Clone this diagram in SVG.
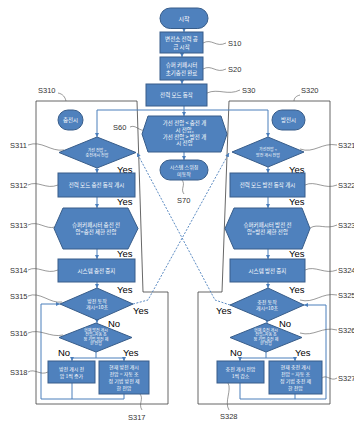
<svg xmlns="http://www.w3.org/2000/svg" width="354" height="423" viewBox="0 0 354 423">
<defs>
<marker id="ah" viewBox="0 0 6 6" refX="6" refY="3" markerWidth="4" markerHeight="4" orient="auto" markerUnits="userSpaceOnUse"><path d="M0,0 L6,3 L0,6 z" fill="#4A7EBB"/></marker>
<style>
.n{fill:#4F81BD;stroke:#385D8A;stroke-width:1}
.t{fill:#fff;font-family:"Noto Sans CJK KR","Noto Sans",sans-serif;text-anchor:middle}
.s55{font-size:5.5px}.s5{font-size:5px}.s4{font-size:4px}.s6{font-size:6px}
.c{fill:none;stroke:#4A7EBB;stroke-width:1}
.a{marker-end:url(#ah)}
.d{fill:none;stroke:#4A7EBB;stroke-width:0.9;stroke-dasharray:2 1.5}
.o{fill:none;stroke:#404040;stroke-width:0.8}
.l{fill:none;stroke:#555;stroke-width:0.6}
.lb{fill:#333;font-family:"Liberation Sans",Arial,sans-serif;font-size:7.5px}
.yn{fill:#000;font-family:"Liberation Sans",Arial,sans-serif;font-size:9.5px}
</style>
</defs>
<rect width="354" height="423" fill="#fff"/>
<g id="outlines">
<path class="o" d="M36,101 H137 L143,292 H168 V404 H36 Z"/>
<path class="o" d="M229,101 H330 V404 H198 V292 H222 Z"/>
</g>
<g id="connectors">
<path class="c a" d="M184,29 V32"/>
<path class="c a" d="M182,53 V57"/>
<path class="c a" d="M182,80 V84"/>
<path class="c a" d="M184,106 V116"/>
<path class="c" d="M97,110 H268"/>
<path class="c a" d="M97,110 V137"/>
<path class="c a" d="M268,110 V137"/>
<path class="c a" d="M184,152 V160"/>
<path class="c a" d="M97,168 V173"/>
<path class="c a" d="M97,197 V208"/>
<path class="c a" d="M97,249 V259"/>
<path class="c a" d="M97,282 V288"/>
<path class="c a" d="M97,320 V323"/>
<path class="c" d="M96,352 V358 M72,358 H124"/>
<path class="c a" d="M72,358 V361"/>
<path class="c a" d="M124,358 V361"/>
<path class="c" d="M72,383 V399 M124,394 V399 M41,399 H124"/>
<path class="c a" d="M41,399 V304 H60"/>
<path class="c a" d="M268,167 V173"/>
<path class="c a" d="M268,197 V208"/>
<path class="c a" d="M268,249 V259"/>
<path class="c a" d="M268,282 V288"/>
<path class="c a" d="M267,321 V323"/>
<path class="c" d="M266,352 V358 M240,358 H295"/>
<path class="c a" d="M240,358 V361"/>
<path class="c a" d="M295,358 V361"/>
<path class="c" d="M240,383 V399 M295,394 V399 M240,399 H326"/>
<path class="c a" d="M326,399 V305 H304"/>
<path class="d a" d="M133,304 L148,300 L229,153"/>
<path class="d a" d="M230,305 L215,300 L137,153"/>
</g>
<g id="leaders">
<path class="l" d="M203,43 C212,38 216,48 226,43"/>
<path class="l" d="M203,69 C212,64 216,74 226,69"/>
<path class="l" d="M207,93 C218,88 228,96 240,90"/>
<path class="l" d="M58,93 C63,94 65,97 66,101"/>
<path class="l" d="M300,95 C296,96 294,98 294,101"/>
<path class="l" d="M130,127 C136,124 139,132 146,130"/>
<path class="l" d="M182,180 C186,185 180,189 184,194"/>
<path class="l" d="M28,145 C42,140 50,152 64,150"/>
<path class="l" d="M28,185 C38,180 46,190 58,185"/>
<path class="l" d="M28,225 C38,220 46,230 55,227"/>
<path class="l" d="M28,270 C38,265 46,275 58,270"/>
<path class="l" d="M28,296 C40,291 50,304 62,302"/>
<path class="l" d="M28,333 C40,328 50,338 63,335"/>
<path class="l" d="M28,372 C35,368 40,376 48,372"/>
<path class="l" d="M140,394 C144,399 138,404 142,410"/>
<path class="l" d="M300,149 C314,154 322,142 337,145"/>
<path class="l" d="M305,185 C315,180 325,190 337,185"/>
<path class="l" d="M310,228 C318,223 326,230 337,225"/>
<path class="l" d="M305,270 C315,265 325,275 337,270"/>
<path class="l" d="M300,300 C314,304 322,292 337,295"/>
<path class="l" d="M300,333 C314,337 322,326 337,330"/>
<path class="l" d="M322,378 C327,374 331,382 337,378"/>
<path class="l" d="M228,383 C232,390 224,402 229,410"/>
</g>
<g id="labels">
<text class="lb" x="228" y="46">S10</text>
<text class="lb" x="228" y="72">S20</text>
<text class="lb" x="242" y="93">S30</text>
<text class="lb" x="38" y="93">S310</text>
<text class="lb" x="301" y="93">S320</text>
<text class="lb" x="113" y="130">S60</text>
<text class="lb" x="177" y="203">S70</text>
<text class="lb" x="10" y="148">S311</text>
<text class="lb" x="10" y="188">S312</text>
<text class="lb" x="10" y="228">S313</text>
<text class="lb" x="10" y="273">S314</text>
<text class="lb" x="10" y="299">S315</text>
<text class="lb" x="10" y="336">S316</text>
<text class="lb" x="10" y="375">S318</text>
<text class="lb" x="128" y="420">S317</text>
<text class="lb" x="338" y="148">S321</text>
<text class="lb" x="338" y="188">S322</text>
<text class="lb" x="338" y="228">S323</text>
<text class="lb" x="338" y="273">S324</text>
<text class="lb" x="338" y="298">S325</text>
<text class="lb" x="338" y="333">S326</text>
<text class="lb" x="338" y="381">S327</text>
<text class="lb" x="220" y="419">S328</text>
<text class="yn" x="117" y="173">Yes</text>
<text class="yn" x="117" y="205">Yes</text>
<text class="yn" x="117" y="257">Yes</text>
<text class="yn" x="117" y="293">Yes</text>
<text class="yn" x="133" y="314">Yes</text>
<text class="yn" x="108" y="327">No</text>
<text class="yn" x="58" y="356">No</text>
<text class="yn" x="123" y="356">Yes</text>
<text class="yn" x="289" y="173">Yes</text>
<text class="yn" x="289" y="205">Yes</text>
<text class="yn" x="289" y="257">Yes</text>
<text class="yn" x="289" y="293">Yes</text>
<text class="yn" x="216" y="314">Yes</text>
<text class="yn" x="279" y="327">No</text>
<text class="yn" x="230" y="356">No</text>
<text class="yn" x="295" y="356">Yes</text>
</g>
<g id="start"><rect class="n" x="160" y="8" width="48" height="20.5" rx="10.25"/><text class="t s6" x="184" y="20.5">시작</text></g>
<g id="S10"><rect class="n" x="160" y="32" width="43" height="21"/><text class="t s55" x="181.5" y="40.5">변전소 전력 공</text><text class="t s55" x="181.5" y="48.5">급 시작</text></g>
<g id="S20"><rect class="n" x="160" y="57" width="43" height="23"/><text class="t s55" x="181.5" y="66.5">슈퍼 커패시터</text><text class="t s55" x="181.5" y="74.5">초기충전 완료</text></g>
<g id="S30"><rect class="n" x="146" y="84" width="61" height="22"/><text class="t s55" x="176.5" y="97">전력 모드 동작</text></g>
<g id="S60"><polygon class="n" points="142,134 148,116 221,116 227,134 221,152 148,152"/><text class="t s55" x="184.5" y="125">가선 전압 &lt; 충전 개</text><text class="t s55" x="184.5" y="131.5">시 전압,</text><text class="t s55" x="184.5" y="138.5">가선 전압 &gt; 방전 개</text><text class="t s55" x="184.5" y="145">시 전압</text></g>
<g id="S70"><rect class="n" x="160" y="160" width="48" height="20" rx="10"/><text class="t s5" x="184" y="168.5">시스템 스위칭</text><text class="t s5" x="184" y="175.5">미동작</text></g>
<g id="charge"><rect class="n" x="58" y="110" width="25" height="20" rx="10"/><text class="t s55" x="70.5" y="122">충전시</text></g>
<g id="S311"><polygon class="n" points="59,152.5 97,137 136,152.5 97,168"/><text class="t s4" x="97" y="151.5">가선 전압 &gt;</text><text class="t s4" x="97" y="157">충전개시 전압</text></g>
<g id="S312"><rect class="n" x="58" y="173" width="77" height="24"/><text class="t s55" x="96.5" y="187">전력 모드 충전 동작 개시</text></g>
<g id="S313"><polygon class="n" points="54,228.5 63,208 128,208 138,228.5 128,249 63,249"/><text class="t s55" x="96" y="226.5">슈퍼커패시터 충전 전</text><text class="t s55" x="96" y="233.5">압=충전 제한 전압</text></g>
<g id="S314"><rect class="n" x="58" y="259" width="77" height="23"/><text class="t s55" x="96.5" y="272.5">시스템 충전 중지</text></g>
<g id="S315"><polygon class="n" points="60,304 97,288 133,304 97,320"/><text class="t s5" x="97" y="302.5">방전 동작</text><text class="t s5" x="97" y="309">개시&lt;10초</text></g>
<g id="S316"><polygon class="n" points="59,337.5 96,323 132,337.5 96,352"/><text class="t s4" x="96" y="331.5">현재 방전 개시</text><text class="t s4" x="96" y="336">전압=자동 조</text><text class="t s4" x="96" y="340.5">정 기법 방전 제</text><text class="t s4" x="96" y="345">한 전압</text></g>
<g id="S318"><rect class="n" x="48" y="361" width="47" height="22"/><text class="t s5" x="71.5" y="370.5">방전 개시 전</text><text class="t s5" x="71.5" y="377.5">압 1씩 증가</text></g>
<g id="S317"><rect class="n" x="99" y="361" width="50" height="33"/><text class="t s5" x="124" y="369">현재 방전 개시</text><text class="t s5" x="124" y="376">전압 = 자동 조</text><text class="t s5" x="124" y="383">정 기법 방전 제</text><text class="t s5" x="124" y="390">한 전압</text></g>
<g id="discharge"><rect class="n" x="272" y="110" width="33" height="20" rx="10"/><text class="t s55" x="288.5" y="122">방전시</text></g>
<g id="S321"><polygon class="n" points="232,152 268,137 304,152 268,167"/><text class="t s4" x="268" y="151">가선전압 &lt;</text><text class="t s4" x="268" y="156.5">방전 개시 전압</text></g>
<g id="S322"><rect class="n" x="230" y="173" width="75" height="24"/><text class="t s55" x="267.5" y="187">전력 모드 방전 동작 개시</text></g>
<g id="S323"><polygon class="n" points="225,228.5 234,208 302,208 310,228.5 302,249 234,249"/><text class="t s55" x="267.5" y="226.5">슈퍼커패시터 방전 전</text><text class="t s55" x="267.5" y="233.5">압=방전 제한 전압</text></g>
<g id="S324"><rect class="n" x="230" y="259" width="75" height="23"/><text class="t s55" x="267.5" y="272.5">시스템 방전 중지</text></g>
<g id="S325"><polygon class="n" points="230,305 268,288 304,305 268,321"/><text class="t s5" x="267" y="303.5">충전 동작</text><text class="t s5" x="267" y="310">개시&lt;10초</text></g>
<g id="S326"><polygon class="n" points="230,337.5 266,323 302,337.5 266,352"/><text class="t s4" x="266" y="331.5">현재 충전 개시</text><text class="t s4" x="266" y="336">전압=자동 조</text><text class="t s4" x="266" y="340.5">정 기법 충전 제</text><text class="t s4" x="266" y="345">한 전압</text></g>
<g id="S328"><rect class="n" x="217" y="361" width="47" height="22"/><text class="t s5" x="240.5" y="370.5">충전 개시 전압</text><text class="t s5" x="240.5" y="377.5">1씩 감소</text></g>
<g id="S327"><rect class="n" x="269" y="361" width="53" height="33"/><text class="t s5" x="295.5" y="369">현재 충전 개시</text><text class="t s5" x="295.5" y="376">전압 = 자동 조</text><text class="t s5" x="295.5" y="383">정 기법 충전 제</text><text class="t s5" x="295.5" y="390">한 전압</text></g>
</svg>
